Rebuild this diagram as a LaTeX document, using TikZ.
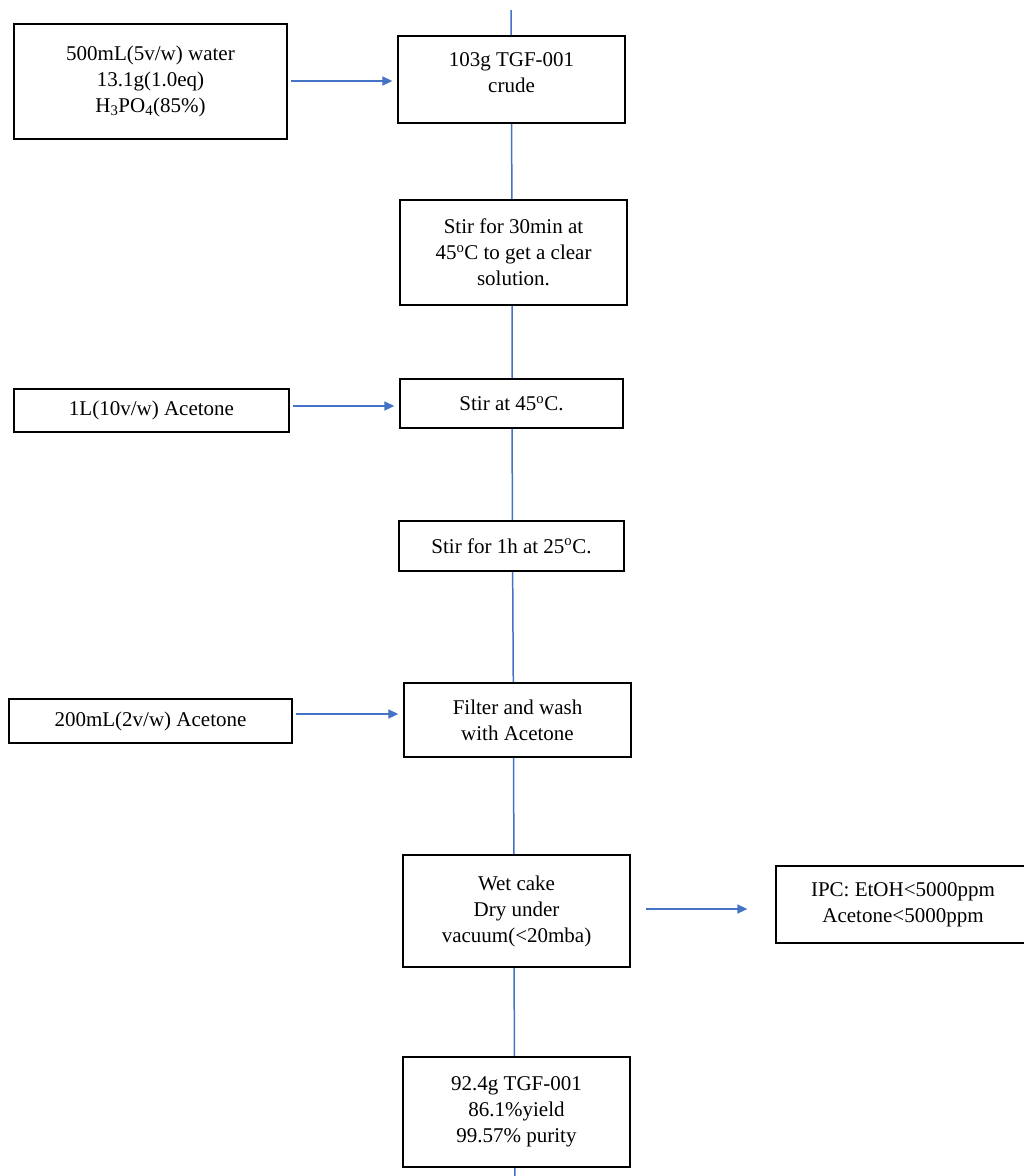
\documentclass[tikz,border=0pt]{standalone}
\usepackage{fontspec}
\setmainfont{Liberation Serif}
\usetikzlibrary{arrows.meta}
\definecolor{flowblue}{HTML}{4472C4}
\begin{document}
\begin{tikzpicture}[x=1pt, y=-1pt,
    box/.style={draw, fill=white, line width=1.3pt, align=center, inner sep=0pt,
        font=\fontsize{21}{26}\selectfont},
    flow/.style={draw=flowblue, line width=1.5pt},
    feed/.style={flow, -{Triangle[length=10pt,width=9pt]}, shorten <=3pt, shorten >=5pt}]
    \useasboundingbox (0,0) rectangle (1024,1176);
    \coordinate (top) at (511,10);
    \coordinate (bottom) at (515,1180);
    % main line first, boxes on top
    \path (511.5,79.5) coordinate (cB) (512,252.5) coordinate (cC)
        (512,403.5) coordinate (cE) (512.5,546) coordinate (cF)
        (513.5,720) coordinate (cH) (514,911) coordinate (cI)
        (514.5,1112) coordinate (cK);
    \draw[flow] (top) -- (cB) -- (cC) -- (cE) -- (cF) -- (cH) -- (cI) -- (cK) -- (bottom);
    \node[box, minimum width=273pt, minimum height=115pt] (water) at (150.5,81.5)
        {500mL(5v/w) water\\13.1g(1.0eq)\\H\textsubscript{3}PO\textsubscript{4}(85\%)};
    \node[box, minimum width=227pt, minimum height=87pt, text depth=14pt] (crude) at (511.5,79.5)
        {103g TGF-001\\crude};
    \node[box, minimum width=227pt, minimum height=105pt] (stirA) at (513.5,252.5)
        {Stir for 30min at\\45\textsuperscript{o}C to get a clear\\solution.};
    \node[box, minimum width=275pt, minimum height=43pt] (acetA) at (151.5,410.5)
        {1L(10v/w) Acetone};
    \node[box, minimum width=223pt, minimum height=49pt] (stirB) at (511.5,403.5)
        {Stir at 45\textsuperscript{o}C.};
    \node[box, minimum width=225pt, minimum height=50pt] (stirC) at (511.5,546)
        {Stir for 1h at 25\textsuperscript{o}C.};
    \node[box, minimum width=283pt, minimum height=44pt] (acetB) at (150.5,721)
        {200mL(2v/w) Acetone};
    \node[box, minimum width=227pt, minimum height=74pt] (filter) at (517.5,720)
        {Filter and wash\\with Acetone};
    \node[box, minimum width=227pt, minimum height=112pt] (cake) at (516.5,911)
        {Wet cake\\Dry under\\vacuum(<20mba)};
    \node[box, minimum width=254pt, minimum height=77pt] (ipc) at (903,904.5)
        {IPC: EtOH<5000ppm\\Acetone<5000ppm};
    \node[box, minimum width=227pt, minimum height=110pt] (product) at (516.5,1112)
        {92.4g TGF-001\\86.1\%yield\\99.57\% purity};
    \draw[feed] (water.east |- 0,81) -- (crude.west |- 0,81);
    \draw[feed] (acetA.east |- 0,406) -- (stirB.west |- 0,406);
    \draw[feed] (acetB.east |- 0,714) -- (filter.west |- 0,714);
    \draw[feed, shorten <=15pt, shorten >=28pt] (cake.east |- 0,909) -- (ipc.west |- 0,909);
\end{tikzpicture}
\end{document}
